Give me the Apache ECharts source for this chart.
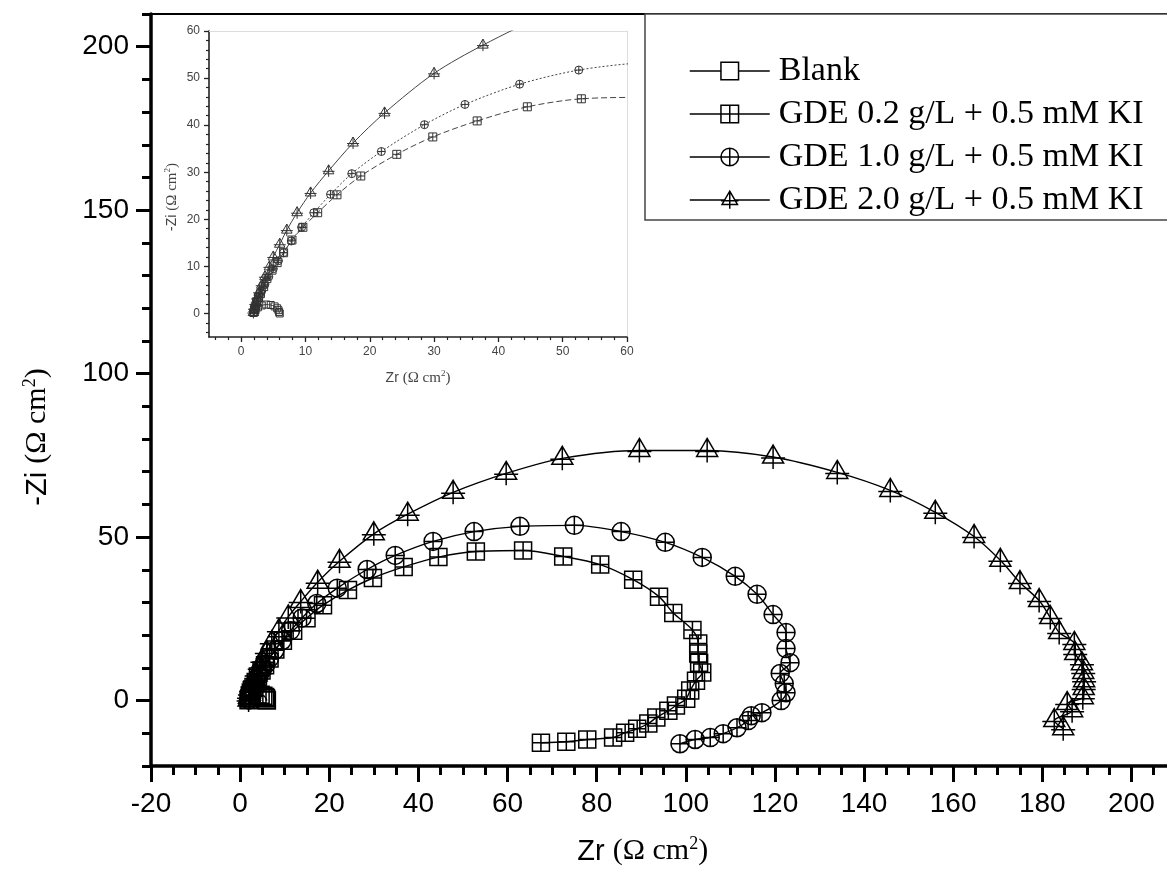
<!DOCTYPE html>
<html><head><meta charset="utf-8">
<script src="https://cdn.jsdelivr.net/npm/echarts@6/dist/echarts.min.js"></script>
<style>html,body{margin:0;padding:0;background:#fff}#c{width:1167px;height:888px}</style>
</head><body><div id="c"></div>
<script>
// ---- data (Zr, -Zi in ohm cm^2) ----
const seriesNames = ['Blank', 'GDE 0.2 g/L + 0.5 mM KI', 'GDE 1.0 g/L + 0.5 mM KI', 'GDE 2.0 g/L + 0.5 mM KI'];
const blankZr = [1.9, 2.2, 2.6, 3.2, 3.9, 4.6, 5.2, 5.6, 5.8, 5.9, 6.0];
const blankZi = [0.1, 0.7, 1.3, 1.7, 1.9, 1.8, 1.5, 1.1, 0.7, 0.3, 0.0];
const gde02Zr = [2.0, 2.1, 2.2, 2.4, 2.7, 3.0, 3.5, 4.0, 4.8, 5.6, 6.6, 7.9, 9.6, 11.9, 14.9, 18.6, 24.2, 29.8, 36.7, 44.5, 52.9, 63.5, 72.5, 80.8, 88.2, 94.0, 97.2, 101.5, 102.8, 102.8, 103.0, 103.7, 102.3, 101.0, 100.1, 97.8, 96.1, 93.4, 91.6, 89.1, 86.4, 83.7, 77.9, 73.2, 67.5];
const gde02Zi = [0.3, 0.8, 1.5, 2.5, 3.4, 4.2, 5.7, 7.4, 9.2, 10.8, 12.9, 15.6, 18.3, 21.4, 25.2, 29.2, 33.8, 37.5, 40.9, 43.9, 45.6, 45.9, 44.1, 41.6, 37.0, 31.8, 26.8, 21.6, 17.5, 14.4, 11.6, 8.6, 6.1, 3.1, 0.6, -1.5, -3.1, -5.2, -7.0, -8.6, -9.8, -11.3, -11.9, -12.6, -12.9];
const gde10Zr = [2.0, 2.1, 2.3, 2.5, 2.8, 3.2, 3.7, 4.3, 5.0, 5.8, 6.6, 7.8, 9.4, 11.3, 13.9, 17.2, 21.8, 28.5, 34.8, 43.3, 52.5, 62.8, 75.0, 85.5, 95.4, 103.7, 111.1, 116.0, 119.6, 122.5, 122.5, 123.4, 121.2, 122.1, 122.5, 121.4, 117.1, 114.7, 114.0, 111.5, 108.4, 105.5, 102.1, 98.7];
const gde10Zi = [0.2, 0.8, 1.6, 2.6, 3.6, 4.8, 6.2, 7.8, 9.5, 11.2, 12.9, 15.4, 18.3, 21.4, 25.3, 29.7, 34.4, 40.1, 44.4, 48.7, 51.7, 53.3, 53.6, 51.7, 48.4, 43.8, 38.0, 32.5, 26.3, 20.8, 15.9, 11.6, 8.3, 5.2, 2.4, 0.0, -3.7, -4.6, -6.1, -8.3, -10.1, -11.3, -11.9, -13.2];
const gde20Zr = [1.9, 2.0, 2.2, 2.5, 2.8, 3.2, 3.7, 4.4, 5.0, 6.0, 7.1, 8.7, 10.8, 13.6, 17.4, 22.3, 30.0, 37.6, 47.8, 59.7, 72.3, 89.6, 104.8, 119.6, 134.0, 145.9, 156.0, 164.7, 170.6, 175.0, 179.3, 181.8, 183.8, 187.2, 187.4, 188.9, 189.2, 189.4, 189.3, 189.1, 185.6, 186.7, 182.7, 184.7];
const gde20Zi = [0.2, 1.0, 2.0, 3.2, 4.5, 6.0, 7.8, 9.9, 12.0, 14.7, 17.7, 21.4, 25.6, 30.3, 36.2, 42.6, 51.0, 57.0, 63.7, 69.5, 74.1, 76.5, 76.5, 74.5, 69.8, 64.3, 57.6, 50.2, 42.9, 36.1, 30.6, 25.4, 20.8, 17.5, 14.4, 11.3, 8.6, 6.1, 3.7, 0.9, -0.9, -3.1, -6.1, -8.6];

// ---- tick values ----
const mainYTicks = [0, 50, 100, 150, 200];
const insetTicks = [0, 10, 20, 30, 40, 50, 60];
const insetMinorTicks = [];
for (let v = -4; v <= 60; v += 2) { if (v % 10 !== 0) insetMinorTicks.push(v); }

// ---- symbols ----
const SYM_SQ = 'path://M0 0L24 0L24 24L0 24Z';
const SYM_SQ_PLUS = 'path://M0 0L24 0L24 24L0 24ZM12 0L12 24M0 12L24 12';
const SYM_CIRC_PLUS = 'path://M0 12A12 12 0 1 1 24 12A12 12 0 1 1 0 12ZM12 0L12 24M0 12L24 12';
const SYM_TRI_PLUS = 'path://M12 0L22.5 18L1.5 18ZM12 0L12 24M0 13L24 13';

function pairs(zr, zi) { return zr.map((v, i) => [v, zi[i]]); }

const SANS = 'Liberation Sans, Arial, sans-serif';
const SERIF = 'Liberation Serif, Times New Roman, serif';

const mainSets = [
  { name: seriesNames[0], zr: blankZr, zi: blankZi, sym: SYM_SQ, size: 17, isize: 7, dash: 'solid' },
  { name: seriesNames[1], zr: gde02Zr, zi: gde02Zi, sym: SYM_SQ_PLUS, size: 17, isize: 8, dash: [6, 3] },
  { name: seriesNames[2], zr: gde10Zr, zi: gde10Zi, sym: SYM_CIRC_PLUS, size: 18, isize: 8, dash: [2, 2] },
  { name: seriesNames[3], zr: gde20Zr, zi: gde20Zi, sym: SYM_TRI_PLUS, size: 24, isize: 12, dash: 'solid' }
];

const series = [];
mainSets.forEach(s => {
  series.push({
    type: 'line', name: s.name, xAxisIndex: 0, yAxisIndex: 0,
    data: pairs(s.zr, s.zi), symbol: s.sym, symbolSize: s.size, smooth: 0.3,
    lineStyle: { color: '#000', width: 1.4 },
    itemStyle: { color: 'rgba(255,255,255,0)', borderColor: '#000', borderWidth: 1.5 },
    emphasis: { disabled: true }, z: 3
  });
});
mainSets.forEach(s => {
  series.push({
    type: 'line', name: s.name, xAxisIndex: 2, yAxisIndex: 2,
    data: pairs(s.zr, s.zi), symbol: s.sym, symbolSize: s.isize, smooth: 0.3,
    lineStyle: { color: '#444', width: 1, type: s.dash },
    itemStyle: { color: 'rgba(255,255,255,0)', borderColor: '#333', borderWidth: 1 },
    emphasis: { disabled: true }, z: 3
  });
});

function richName(txt, big, sup) {
  return {
    rich: {
      s: { fontFamily: SANS, fontSize: big, color: txt, lineHeight: big + 4 },
      t: { fontFamily: SERIF, fontSize: big + 1, color: txt, lineHeight: big + 4 },
      u: { fontFamily: SERIF, fontSize: sup, color: txt, lineHeight: sup + 2, verticalAlign: 'top' }
    }
  };
}

const mainXName = richName('#000', 29, 18);
mainXName.padding = [0, 86, 0, 0];
const mainYName = richName('#000', 29, 18);
mainYName.padding = [0, 94, 0, 0];
const insetXName = richName('#444', 14, 9);
const insetYName = richName('#444', 14, 9);
insetYName.padding = [0, 26, 0, 0];

const option = {
  animation: false,
  backgroundColor: '#fff',
  grid: [
    { left: 151, top: 14, width: 1069.5, height: 752, outerBoundsMode: 'none', containLabel: false },
    { left: 209, top: 31, width: 418, height: 306, outerBoundsMode: 'none', containLabel: false }
  ],
  legend: {
    left: 645, top: 14, orient: 'vertical', selectedMode: false,
    itemWidth: 80, itemHeight: 22, itemGap: 7,
    padding: [39, 30, 2, 44],
    borderColor: '#444', borderWidth: 1.5, backgroundColor: '#fff',
    lineStyle: { width: 1.5, color: '#000' },
    textStyle: { fontFamily: SERIF, fontSize: 34, color: '#000', lineHeight: 36, padding: [0, 0, 0, 4] },
    data: seriesNames.map(n => ({ name: n, itemStyle: { color: '#fff', borderColor: '#000', borderWidth: 1.5 } }))
  },
  xAxis: [
    { type: 'value', gridIndex: 0, position: 'bottom', min: -20, max: 220, interval: 20,
      name: '{s|Zr }{t|(Ω cm}{u|2}{t|)}', nameLocation: 'middle', nameGap: 69, nameTextStyle: mainXName,
      axisLine: { onZero: false, lineStyle: { color: '#000', width: 3.5 } },
      axisTick: { length: 16, lineStyle: { color: '#000', width: 3 } },
      minorTick: { show: true, splitNumber: 4, length: 9, lineStyle: { color: '#000', width: 3 } },
      axisLabel: { margin: 24, fontFamily: SANS, fontSize: 28, color: '#000', showMaxLabel: false },
      splitLine: { show: false } },
    { type: 'value', gridIndex: 0, position: 'top', min: -20, max: 220,
      axisLine: { onZero: false, lineStyle: { color: '#000', width: 2 } },
      axisTick: { show: false }, axisLabel: { show: false }, splitLine: { show: false } },
    { type: 'value', gridIndex: 1, position: 'bottom', min: -5, max: 60,
      name: '{s|Zr }{t|(Ω cm}{u|2}{t|)}', nameLocation: 'middle', nameGap: 32, nameTextStyle: insetXName,
      axisLine: { onZero: false, lineStyle: { color: '#222', width: 1.6 } },
      axisTick: { customValues: insetTicks, length: 5, lineStyle: { color: '#222', width: 1.3 } },
      axisLabel: { customValues: insetTicks, margin: 9, fontFamily: SANS, fontSize: 12, color: '#444' },
      splitLine: { show: false } },
    { type: 'value', gridIndex: 1, position: 'bottom', min: -5, max: 60,
      axisLine: { show: false, onZero: false },
      axisTick: { customValues: insetMinorTicks, length: 3, lineStyle: { color: '#222', width: 1.2 } },
      axisLabel: { show: false }, splitLine: { show: false } },
    { type: 'value', gridIndex: 1, position: 'top', min: -5, max: 60,
      axisLine: { onZero: false, lineStyle: { color: '#ddd', width: 1 } },
      axisTick: { show: false }, axisLabel: { show: false }, splitLine: { show: false } }
  ],
  yAxis: [
    { type: 'value', gridIndex: 0, position: 'left', min: -20, max: 210,
      name: '{s|-Zi }{t|(Ω cm}{u|2}{t|)}', nameLocation: 'middle', nameGap: 97, nameTextStyle: mainYName,
      axisLine: { onZero: false, lineStyle: { color: '#000', width: 3.5 } },
      axisTick: { customValues: mainYTicks, length: 15, lineStyle: { color: '#000', width: 3 } },
      axisLabel: { customValues: mainYTicks, margin: 22, fontFamily: SANS, fontSize: 28, color: '#000' },
      splitLine: { show: false } },
    { type: 'value', gridIndex: 0, position: 'left', min: -20, max: 210, interval: 10,
      axisLine: { show: false, onZero: false },
      axisTick: { length: 9, lineStyle: { color: '#000', width: 3 } },
      axisLabel: { show: false }, splitLine: { show: false } },
    { type: 'value', gridIndex: 1, position: 'left', min: -5, max: 60,
      name: '{s|-Zi }{t|(Ω cm}{u|2}{t|)}', nameLocation: 'middle', nameGap: 28, nameTextStyle: insetYName,
      axisLine: { onZero: false, lineStyle: { color: '#222', width: 1.6 } },
      axisTick: { customValues: insetTicks, length: 5, lineStyle: { color: '#222', width: 1.3 } },
      axisLabel: { customValues: insetTicks, margin: 9, fontFamily: SANS, fontSize: 12, color: '#444' },
      splitLine: { show: false } },
    { type: 'value', gridIndex: 1, position: 'left', min: -5, max: 60,
      axisLine: { show: false, onZero: false },
      axisTick: { customValues: insetMinorTicks, length: 3, lineStyle: { color: '#222', width: 1.2 } },
      axisLabel: { show: false }, splitLine: { show: false } },
    { type: 'value', gridIndex: 1, position: 'right', min: -5, max: 60,
      axisLine: { onZero: false, lineStyle: { color: '#ddd', width: 1 } },
      axisTick: { show: false }, axisLabel: { show: false }, splitLine: { show: false } }
  ],
  series: series
};

const chart = echarts.init(document.getElementById('c'), null, { renderer: 'canvas' });
chart.setOption(option);
</script>
</body></html>
